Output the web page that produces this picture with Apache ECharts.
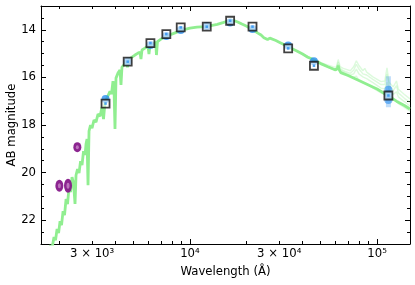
<!DOCTYPE html>
<html>
<head>
<meta charset="utf-8">
<script src="https://cdn.jsdelivr.net/npm/echarts@6/dist/echarts.min.js"></script>
<style>
html,body{margin:0;padding:0;background:#fff;}
#chart{width:415px;height:285px;}
</style>
</head>
<body>
<div id="chart"></div>
<script>
// ---- Tick definitions ----
const xMajorTicks = [10000, 100000];
const xMinorTicks = [2000, 3000, 4000, 5000, 6000, 7000, 8000, 9000, 20000, 30000, 40000, 50000, 60000, 70000, 80000, 90000];
const xLabelValues = [3000, 10000, 30000, 100000];
const xLabelTexts = ['3 × 10³', '10⁴', '3 × 10⁴', '10⁵'];
const yMajorTicks = [14, 16, 18, 20, 22];
const yMinorTicks = [13.5, 14.5, 15, 15.5, 16.5, 17, 17.5, 18.5, 19, 19.5, 20.5, 21, 21.5, 22.5];

// ---- Model spectrum (main) ----
const specWave = [1745, 1800, 1833, 1878, 1913, 1950, 1986, 2023, 2060, 2099, 2137, 2178, 2218, 2259, 2301, 2344, 2388, 2432, 2462, 2508, 2555, 2603, 2651, 2700, 2751, 2784, 2819, 2854, 2889, 2943, 2998, 3072, 3148, 3227, 3307, 3390, 3453, 3517, 3604, 3671, 3740, 3809, 3880, 3928, 3977, 4026, 4126, 4229, 4281, 4333, 4441, 4552, 4637, 4723, 4900, 5085, 5276, 5408, 5475, 5542, 5750, 5968, 6041, 6115, 6346, 6563, 6624, 6707, 7000, 7446, 8000, 8521, 9000, 9520, 10000, 10900, 12000, 12945, 14000, 15000, 16000, 16550, 17000, 18000, 18950, 20000, 20910, 22000, 23070, 24000, 24840, 26000, 26740, 27400, 28790, 30000, 32150, 35000, 37260, 40000, 42660, 45000, 50000, 54560, 60000, 61500, 62000, 62600, 64000, 70000, 80000, 90000, 100000, 113000, 127000, 140000, 150000];
const specMag = [23.34, 23.05, 23.17, 22.71, 22.84, 22.37, 22.54, 22.04, 22.21, 21.62, 21.79, 21.11, 21.32, 20.61, 20.82, 20.19, 20.44, 21.32, 20.11, 19.85, 20.02, 19.52, 19.68, 19.10, 19.26, 18.80, 18.59, 20.53, 18.26, 18.00, 18.13, 17.79, 17.88, 17.54, 17.63, 17.25, 17.75, 17.04, 16.87, 16.95, 16.58, 16.70, 16.16, 16.41, 18.17, 16.03, 15.82, 15.69, 16.32, 15.57, 15.48, 15.32, 15.57, 15.23, 15.15, 15.06, 14.98, 14.94, 15.23, 14.85, 14.77, 14.68, 15.02, 14.64, 14.60, 14.52, 15.06, 14.50, 14.39, 14.29, 14.18, 14.10, 14.01, 13.97, 13.93, 13.89, 13.87, 13.82, 13.77, 13.70, 13.63, 13.59, 13.60, 13.67, 13.76, 13.84, 13.93, 14.03, 14.14, 14.22, 14.33, 14.41, 14.35, 14.37, 14.45, 14.52, 14.64, 14.79, 14.89, 15.02, 15.15, 15.23, 15.42, 15.55, 15.69, 15.62, 15.50, 15.66, 15.80, 15.92, 16.13, 16.32, 16.49, 16.74, 17.00, 17.18, 17.33];

// ---- Alternative model spectra in the infrared ----
const irWave = [40000, 50000, 58000, 60500, 62000, 63500, 66000, 72000, 75000, 77500, 80000, 84000, 86000, 88000, 95000, 105000, 110000, 113000, 116000, 122000, 127000, 130000, 140000, 150000];
const irMag1 = [15.02, 15.38, 15.55, 15.58, 15.25, 15.55, 15.62, 15.72, 15.55, 15.30, 15.50, 15.72, 15.62, 15.78, 15.98, 16.18, 16.15, 15.60, 16.20, 16.40, 16.15, 16.50, 16.72, 16.90];
const irMag2 = [15.02, 15.40, 15.62, 15.64, 15.35, 15.62, 15.72, 15.83, 15.70, 15.45, 15.65, 15.85, 15.78, 15.90, 16.08, 16.30, 16.30, 15.85, 16.35, 16.55, 16.35, 16.65, 16.88, 17.05];
const irMag3 = [15.02, 15.41, 15.64, 15.67, 15.45, 15.67, 15.77, 15.90, 15.85, 15.65, 15.85, 15.98, 15.92, 16.05, 16.22, 16.45, 16.48, 16.20, 16.52, 16.72, 16.60, 16.82, 17.02, 17.20];
const irMag4 = [15.04, 15.44, 15.66, 15.71, 15.60, 15.73, 15.82, 15.96, 15.98, 15.95, 16.12, 16.22, 16.24, 16.28, 16.45, 16.65, 16.72, 16.70, 16.82, 16.95, 17.00, 17.10, 17.26, 17.42];

// ---- Photometry ----
const obsWave = [3540, 4650, 6150, 7480, 8930, 12300, 16400, 21600, 33500, 46000, 115000];
const obsMag = [16.91, 15.33, 14.64, 14.26, 14.01, 13.84, 13.69, 13.97, 14.66, 15.32, 16.72];
const w3Wave = [115000, 115000];
const w3Range = [15.95, 17.25];
const w3Extra = [16.52, 16.95];
const modWave = [3540, 4650, 6150, 7480, 8930, 12300, 16400, 21600, 33500, 46000, 115000];
const modMag = [17.10, 15.34, 14.56, 14.18, 13.90, 13.87, 13.62, 13.87, 14.78, 15.51, 16.76];
const uvWave = [2006, 2231, 2502];
const uvMag = [20.55, 20.55, 18.93];

const zip = (a, b) => a.map((v, i) => [v, b[i]]);
const FONT = 'DejaVu Sans';
const FS = 11.7;

function xAx(pos, ticks, len, main) {
  return {
    type: 'log', logBase: 10, min: 1600, max: 150000, position: pos,
    axisLine: { show: main, lineStyle: { color: '#000', width: 1 } },
    axisTick: { show: true, inside: true, length: len, customValues: ticks, lineStyle: { color: '#000', width: 1 } },
    axisLabel: (main && pos === 'bottom') ? {
      show: true, customValues: xLabelValues, margin: 4, color: '#000', fontFamily: FONT, fontSize: FS,
      formatter: function (v) {
        let best = 0, bd = Infinity;
        xLabelValues.forEach((t, i) => { const d = Math.abs(Math.log10(v) - Math.log10(t)); if (d < bd) { bd = d; best = i; } });
        return xLabelTexts[best];
      }
    } : { show: false },
    splitLine: { show: false },
    minorTick: { show: false },
    name: (main && pos === 'bottom') ? 'Wavelength (Å)' : '',
    nameLocation: 'middle', nameGap: 22, nameMoveOverlap: false,
    nameTextStyle: { color: '#000', fontFamily: FONT, fontSize: FS }
  };
}
function yAx(pos, ticks, len, main) {
  return {
    type: 'value', min: 13, max: 23, inverse: true, position: pos,
    axisLine: { show: main, lineStyle: { color: '#000', width: 1 } },
    axisTick: { show: true, inside: true, length: len, customValues: ticks, lineStyle: { color: '#000', width: 1 } },
    axisLabel: (main && pos === 'left') ? {
      show: true, customValues: yMajorTicks, margin: 5, color: '#000', fontFamily: FONT, fontSize: FS
    } : { show: false },
    splitLine: { show: false },
    name: (main && pos === 'left') ? 'AB magnitude' : '',
    nameLocation: 'middle', nameGap: 23, nameMoveOverlap: false,
    nameTextStyle: { color: '#000', fontFamily: FONT, fontSize: FS }
  };
}

const chart = echarts.init(document.getElementById('chart'), null, { renderer: 'canvas' });
const irStyle = { color: '#90ee90', width: 1.4, opacity: 0.3 };
chart.setOption({
  animation: false,
  backgroundColor: '#fff',
  grid: { left: 41, right: 5, top: 6, bottom: 41, containLabel: false, outerBoundsMode: 'none' },
  xAxis: [
    xAx('bottom', xMajorTicks, 5, true),
    xAx('bottom', xMinorTicks, 3, false),
    xAx('top', xMajorTicks, 5, true),
    xAx('top', xMinorTicks, 3, false)
  ],
  yAxis: [
    yAx('left', yMajorTicks, 5, true),
    yAx('left', yMinorTicks, 3, false),
    yAx('right', yMajorTicks, 5, true),
    yAx('right', yMinorTicks, 3, false)
  ],
  series: [
    { type: 'line', data: zip(irWave, irMag1), symbol: 'none', lineStyle: irStyle, z: 1, silent: true },
    { type: 'line', data: zip(irWave, irMag2), symbol: 'none', lineStyle: irStyle, z: 1, silent: true },
    { type: 'line', data: zip(irWave, irMag3), symbol: 'none', lineStyle: irStyle, z: 1, silent: true },
    { type: 'line', data: zip(irWave, irMag4), symbol: 'none', lineStyle: irStyle, z: 1, silent: true },
    { type: 'line', data: zip(specWave, specMag), symbol: 'none', lineStyle: { color: '#90ee90', width: 2.8 }, z: 2, silent: true },
    { type: 'line', data: zip(w3Wave, w3Range), symbol: 'none', lineStyle: { color: '#2b90f0', width: 5, opacity: 0.3 }, z: 3, silent: true },
    { type: 'scatter', data: zip(uvWave, uvMag), symbol: 'circle',
      symbolSize: function (v, p) { return [[8, 12], [8, 14], [8, 10]][p.dataIndex]; },
      itemStyle: { color: '#86198a', opacity: 0.95 }, z: 4, silent: true },
    { type: 'scatter', data: zip(uvWave, uvMag), symbol: 'circle',
      symbolSize: function (v, p) { return [[3, 5], [3, 6], [3, 4]][p.dataIndex]; },
      itemStyle: { color: '#c98ac9' }, z: 5, silent: true },
    { type: 'scatter', data: zip([115000, 115000], w3Extra), symbol: 'circle', symbolSize: 8,
      itemStyle: { color: '#2b90f0', opacity: 0.6 }, z: 5, silent: true },
    { type: 'scatter', data: zip(obsWave, obsMag), symbol: 'circle', symbolSize: 8,
      itemStyle: { color: '#2b90f0' }, z: 6, silent: true },
    { type: 'scatter', data: zip(modWave, modMag), symbol: 'rect', symbolSize: 8,
      itemStyle: { color: 'rgba(255,255,255,0.7)', borderColor: '#111', borderWidth: 1.8 }, z: 7, silent: true },
    { type: 'scatter', data: zip(modWave, modMag), symbol: 'rect', symbolSize: 2.5,
      itemStyle: { color: '#2b90f0' }, z: 8, silent: true }
  ]
});
</script>
</body>
</html>
